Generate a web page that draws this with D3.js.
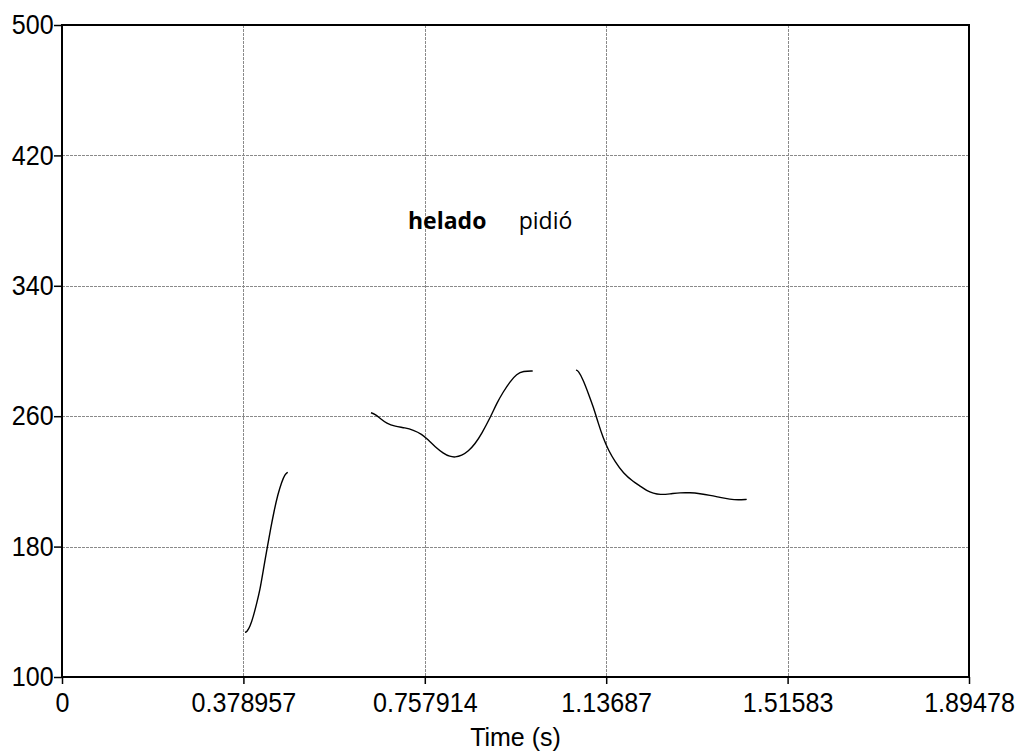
<!DOCTYPE html>
<html>
<head>
<meta charset="utf-8">
<script src="https://cdn.jsdelivr.net/npm/d3@7"></script>
<style>
  html, body { margin: 0; padding: 0; background: #fff; }
  svg { display: block; }
</style>
</head>
<body>
<svg id="chart" width="1023" height="754"></svg>
<script>
// ---- data ----
const xTickValues = [0, 0.378957, 0.757914, 1.13687, 1.51583, 1.89478];
const xTickLabels = ["0", "0.378957", "0.757914", "1.13687", "1.51583", "1.89478"];
const yTickValues = [100, 180, 260, 340, 420, 500];
const xDomain = [0, 1.89478];
const yDomain = [100, 500];
const xAxisTitle = "Time (s)";

const seg1Time = [0.3823, 0.3865, 0.3928, 0.3996, 0.4067, 0.4136, 0.4205, 0.4289, 0.4360, 0.4435, 0.4506, 0.4590, 0.4659, 0.4715];
const seg1F0   = [127.4, 127.8, 130.9, 137.0, 145.2, 153.4, 165.6, 179.6, 191.2, 202.5, 211.7, 219.8, 224.5, 225.6];

const seg2Time = [0.6455, 0.6539, 0.6643, 0.6783, 0.6957, 0.7166, 0.7339, 0.7514, 0.7652, 0.7792, 0.7966, 0.8106, 0.8210, 0.8350, 0.8488, 0.8628, 0.8768, 0.8956, 0.9081, 0.9219, 0.9359, 0.9499, 0.9637, 0.9833];
const seg2F0   = [262.1, 261.3, 258.7, 255.6, 253.8, 252.9, 251.5, 249.1, 245.4, 241.3, 237.2, 235.2, 234.8, 235.8, 238.5, 242.9, 249.3, 259.7, 267.9, 275.0, 281.2, 285.9, 287.7, 287.7];

const seg3Time = [1.0738, 1.0786, 1.0890, 1.0995, 1.1099, 1.1204, 1.1308, 1.1413, 1.1553, 1.1726, 1.1935, 1.2075, 1.2215, 1.2353, 1.2493, 1.2702, 1.2911, 1.3120, 1.3329, 1.3537, 1.3746, 1.3955, 1.4129, 1.4304];
const seg3F0   = [288.3, 287.9, 282.2, 274.0, 265.8, 255.6, 246.4, 239.3, 232.1, 225.0, 219.8, 217.2, 214.3, 212.7, 211.8, 212.3, 213.1, 213.1, 212.5, 211.5, 210.2, 209.0, 208.6, 209.0];

const wordTexts  = ["helado", "pidió"];
const wordBold   = [true, false];
const wordTime   = [0.7228, 0.9541];
const wordF0     = [375.0, 375.0];

// ---- layout ----
const svg = d3.select("#chart");
const margin = { left: 62, top: 25, right: 1023 - 969, bottom: 754 - 677 };
const W = 1023 - margin.left - margin.right;
const H = 754 - margin.top - margin.bottom;
const g = svg.append("g").attr("transform", `translate(${margin.left},${margin.top})`);

const x = d3.scaleLinear().domain(xDomain).range([0, W]);
const y = d3.scaleLinear().domain(yDomain).range([H, 0]);

// grid
g.append("g").selectAll("line.vg")
  .data(xTickValues.slice(1, -1)).join("line")
  .attr("x1", d => Math.round(x(d)) + 0.5).attr("x2", d => Math.round(x(d)) + 0.5)
  .attr("y1", 0).attr("y2", H)
  .attr("stroke", "#8a8a8a").attr("stroke-width", 1).attr("stroke-dasharray", "3,1");
g.append("g").selectAll("line.hg")
  .data(yTickValues.slice(1, -1)).join("line")
  .attr("y1", d => Math.round(y(d)) + 0.5).attr("y2", d => Math.round(y(d)) + 0.5)
  .attr("x1", 0).attr("x2", W)
  .attr("stroke", "#8a8a8a").attr("stroke-width", 1).attr("stroke-dasharray", "3,1");

// axes
const fontAxis = "'Liberation Sans', Arial, sans-serif";
const xAxis = d3.axisBottom(x).tickValues(xTickValues)
  .tickFormat((d, i) => xTickLabels[i]).tickSize(7).tickPadding(9);
const gx = g.append("g").attr("transform", `translate(0,${H})`).call(xAxis);
gx.select(".domain").remove();
gx.selectAll(".tick line").attr("stroke", "#000").attr("stroke-width", 1.5);
gx.selectAll("text").attr("font-family", fontAxis).attr("font-size", 27).attr("fill", "#000")
  .attr("transform", "scale(0.93,1)");

const yAxis = d3.axisLeft(y).tickValues(yTickValues).tickSize(8).tickPadding(1);
const gy = g.append("g").call(yAxis);
gy.select(".domain").remove();
gy.selectAll(".tick line").attr("stroke", "#000").attr("stroke-width", 1.5);
gy.selectAll("text").attr("font-family", fontAxis).attr("font-size", 27).attr("fill", "#000")
  .attr("transform", "scale(0.93,1)");

// frame
g.append("rect").attr("x", 0).attr("y", 0).attr("width", W).attr("height", H)
  .attr("fill", "none").attr("stroke", "#000").attr("stroke-width", 2);

// axis title
g.append("text").attr("x", W / 2).attr("y", H + 69)
  .attr("text-anchor", "middle").attr("font-family", fontAxis).attr("font-size", 25)
  .attr("fill", "#000").text(xAxisTitle);

// pitch curves
const line = d3.line().x(d => x(d[0])).y(d => y(d[1])).curve(d3.curveBasis);
[[seg1Time, seg1F0], [seg2Time, seg2F0], [seg3Time, seg3F0]].forEach(([ts, vs]) => {
  g.append("path").datum(ts.map((t, i) => [t, vs[i]]))
    .attr("d", line).attr("fill", "none").attr("stroke", "#000").attr("stroke-width", 1.4);
});

// word labels
g.append("g").selectAll("text").data(wordTexts).join("text")
  .attr("x", (d, i) => x(wordTime[i])).attr("y", (d, i) => y(wordF0[i]))
  .attr("font-family", "'Open Sans', 'Noto Sans', sans-serif")
  .attr("font-size", 23)
  .attr("font-weight", (d, i) => wordBold[i] ? "bold" : "normal")
  .attr("fill", "#000").text(d => d);
</script>
</body>
</html>
